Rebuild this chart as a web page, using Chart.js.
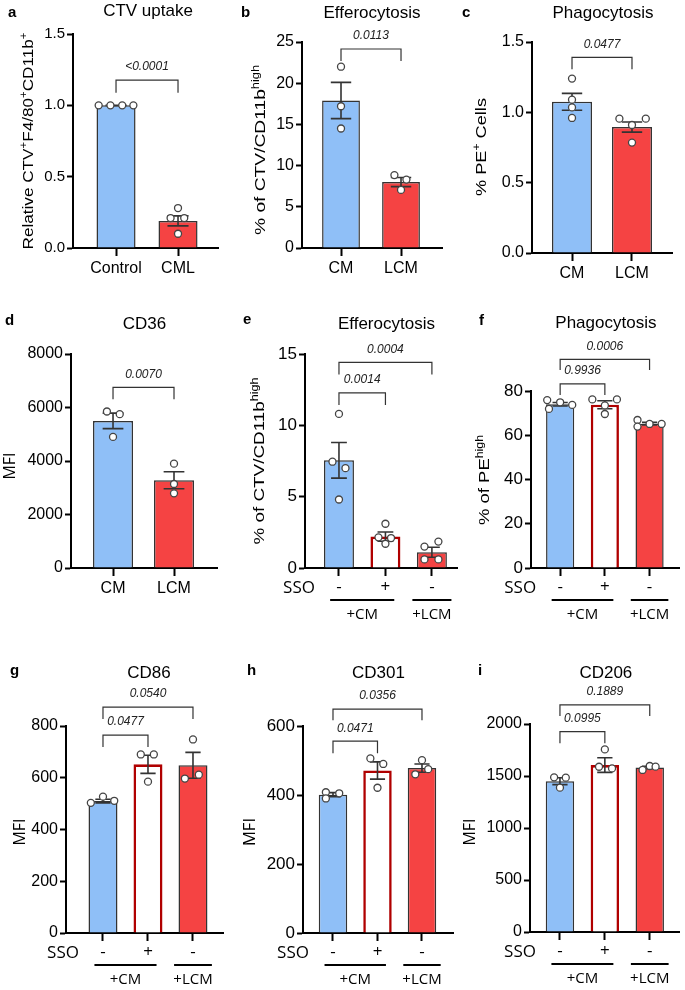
<!DOCTYPE html>
<html lang="en">
<head>
<meta charset="UTF-8">
<title>Efferocytosis and phagocytosis panels</title>
<script src="https://cdn.jsdelivr.net/npm/chart.js"></script>
<style>
  body { margin: 0; background: #fff; }
  #fig { position: relative; width: 685px; height: 990px; }
  #fig canvas { position: absolute; left: 0; top: 0; }
</style>
</head>
<body>
<div id="fig"></div>
<script>
// ---- values (mean, SEM, single replicates, p values) ----
const aLabels = ['Control', 'CML'];
const aMeans = [1.0, 0.19];
const aSems = [0.0, 0.035];
const aDots = [[1.0, 1.0, 1.0, 1.0], [0.28, 0.21, 0.21, 0.10]];
const aP = ['<0.0001'];

const bLabels = ['CM', 'LCM'];
const bMeans = [17.9, 8.0];
const bSems = [2.2, 0.55];
const bDots = [[22.0, 17.2, 14.5], [8.85, 8.3, 7.05]];
const bP = ['0.0113'];

const cLabels = ['CM', 'LCM'];
const cMeans = [1.075, 0.895];
const cSems = [0.06, 0.036];
const cDots = [[1.24, 1.09, 1.035, 0.96], [0.955, 0.955, 0.91, 0.785]];
const cP = ['0.0477'];

const dLabels = ['CM', 'LCM'];
const dMeans = [5500, 3280];
const dSems = [290, 320];
const dDots = [[5850, 5750, 4900], [3900, 3140, 2790]];
const dP = ['0.0070'];

const ssoSigns = ['-', '+', '-'];
const groupNames = ['+CM', '+LCM'];

const eMeans = [7.55, 2.2, 1.1];
const eSems = [1.25, 0.32, 0.35];
const eDots = [[10.8, 7.45, 7.0, 4.8], [3.1, 2.15, 2.1, 1.7], [1.85, 1.5, 0.6, 0.6]];
const eP = ['0.0014', '0.0004'];

const fMeans = [74.0, 73.8, 65.2];
const fSems = [0.8, 1.8, 0.6];
const fDots = [[75.9, 74.9, 73.7, 71.9], [76.2, 76.2, 73.5, 69.6], [66.9, 63.9, 65.1, 65.1]];
const fP = ['0.9936', '0.0006'];

const gMeans = [510, 652, 648];
const gSems = [7, 35, 50];
const gDots = [[503, 527, 511], [690, 690, 585], [748, 597, 612]];
const gP = ['0.0477', '0.0540'];

const hMeans = [401, 471, 478];
const hSems = [6, 25, 12];
const hDots = [[408, 405, 390], [506, 490, 421], [501, 460, 475]];
const hP = ['0.0471', '0.0356'];

const iMeans = [1450, 1605, 1582];
const iSems = [33, 70, 12];
const iDots = [[1487, 1484, 1388], [1756, 1589, 1573], [1558, 1596, 1590]];
const iP = ['0.0995', '0.1889'];

// ---- styling / layout ----
const SANS = '"Liberation Sans", Arial, sans-serif';
const SEGOE = '"Open Sans", "Liberation Sans", sans-serif';
const BLUE = '#8fbff7', RED = '#f54343', DARK = '#333333', DKRED = '#b00000';
const two = { fills: [BLUE, RED], strokes: [DARK, DARK], widths: [1.5, 1.5] };
const three = { fills: [BLUE, '#ffffff', RED], strokes: [DARK, DKRED, DARK], widths: [1.5, 2.6, 1.5] };

const panels = [
  { letter: 'a', letterPos: [8, 17], title: 'CTV uptake', titleY: 10, area: [73, 34, 218, 248], xRange: [0.306, 2.645],
    yMax: 1.5, yStep: 0.5, dec: 1, tickSize: 15, barPct: 0.63, labels: aLabels, means: aMeans, sems: aSems, dots: aDots, pvals: aP,
    jitter: [[-0.28, -0.09, 0.1, 0.28], [0, -0.12, 0.1, 0]], brackets: [[0, 1, 1.177, 1.088]],
    yTitle: [['Relative CTV', 0], ['+', 1], ['F4/80', 0], ['+', 1], ['CD11b', 0], ['+', 1]], yTitlePos: [28, 141, 217, 15], yFont: SANS, ...two },
  { letter: 'b', letterPos: [241, 17], title: 'Efferocytosis', titleY: 12, area: [302, 42, 442, 248], xRange: [0.35, 2.683],
    yMax: 25, yStep: 5, dec: 0, tickSize: 16, barPct: 0.63, labels: bLabels, means: bMeans, sems: bSems, dots: bDots, pvals: bP,
    jitter: [[0, 0, 0], [-0.11, 0.09, 0]], brackets: [[0, 1, 24.15, 22.7]],
    yTitle: [['% of CTV/CD11b', 0], ['high', 1]], yTitlePos: [260, 150, 170, 15], yFont: SANS, ...two },
  { letter: 'c', letterPos: [462, 17], title: 'Phagocytosis', titleY: 12, area: [532, 42, 672, 253], xRange: [0.333, 2.667],
    yMax: 1.5, yStep: 0.5, dec: 1, tickSize: 16, barPct: 0.667, labels: cLabels, means: cMeans, sems: cSems, dots: cDots, pvals: cP,
    jitter: [[0, 0, 0, 0], [-0.21, 0.23, 0, 0]], brackets: [[0, 1, 1.39, 1.306]],
    yTitle: [['% PE', 0], ['+', 1], [' Cells', 0]], yTitlePos: [481, 147, 98, 15], yFont: SANS, ...two },
  { letter: 'd', letterPos: [5, 325], title: 'CD36', titleY: 322.5, area: [71, 354, 217, 568], xRange: [0.311, 2.705],
    yMax: 8000, yStep: 2000, dec: 0, tickSize: 16, barPct: 0.656, labels: dLabels, means: dMeans, sems: dSems, dots: dDots, pvals: dP,
    jitter: [[-0.1, 0.11, 0], [0, 0, 0]], brackets: [[0, 1, 6755, 6306]],
    yTitle: [['MFI', 0]], yTitlePos: [9, 466, 27, 17], yFont: SEGOE, ...two },
  { letter: 'e', letterPos: [243, 324], title: 'Efferocytosis', titleY: 322.5, area: [305, 354, 457, 568], xRange: [0.269, 3.54],
    yMax: 15, yStep: 5, dec: 0, tickSize: 17, barPct: 0.645, labels: ssoSigns, groups: true, means: eMeans, sems: eSems, dots: eDots, pvals: eP,
    jitter: [[0, -0.14, 0.14, 0], [0, -0.15, 0.12, 0], [0.14, -0.16, -0.16, 0.14]], brackets: [[0, 1, 12.28, 11.42], [0, 2, 14.41, 13.57]],
    yTitle: [['% of CTV/CD11b', 0], ['high', 1]], yTitlePos: [259, 461, 167, 15], yFont: SANS, ...three },
  { letter: 'f', letterPos: [479, 325], title: 'Phagocytosis', titleY: 322, area: [531, 391, 684, 568], xRange: [0.348, 3.674],
    yMax: 80, yStep: 20, dec: 0, tickSize: 17, barPct: 0.63, labels: ssoSigns, groups: true, means: fMeans, sems: fSems, dots: fDots, pvals: fP,
    jitter: [[-0.29, 0, 0.27, -0.25], [-0.28, 0.27, 0, 0], [-0.27, -0.27, 0, 0.27]], brackets: [[0, 1, 83.2, 78.2], [0, 2, 94.3, 89.5]],
    yTitle: [['% of PE', 0], ['high', 1]], yTitlePos: [484, 480, 90, 15], yFont: SANS, ...three },
  { letter: 'g', letterPos: [10, 675], title: 'CD86', titleY: 672, area: [66, 726, 223, 933], xRange: [0.178, 3.667],
    yMax: 800, yStep: 200, dec: 0, tickSize: 16, barPct: 0.644, labels: ssoSigns, groups: true, means: gMeans, sems: gSems, dots: gDots, pvals: gP,
    jitter: [[-0.27, 0, 0.25], [-0.16, 0.13, 0], [0, -0.18, 0.13]], brackets: [[0, 1, 765, 719], [0, 2, 873, 827]],
    yTitle: [['MFI', 0]], yTitlePos: [19, 832, 27, 17], yFont: SEGOE, ...three },
  { letter: 'h', letterPos: [247, 675], title: 'CD301', titleY: 672, area: [303, 726, 453, 933], xRange: [0.326, 3.697],
    yMax: 600, yStep: 200, dec: 0, tickSize: 17, barPct: 0.64, labels: ssoSigns, groups: true, means: hMeans, sems: hSems, dots: hDots, pvals: hP,
    jitter: [[-0.16, 0.14, -0.16], [-0.16, 0.13, 0], [0, -0.15, 0.14]], brackets: [[0, 1, 556, 521], [0, 2, 649, 617]],
    yTitle: [['MFI', 0]], yTitlePos: [249, 832, 28, 17], yFont: SEGOE, ...three },
  { letter: 'i', letterPos: [478, 675], title: 'CD206', titleY: 672, area: [530, 724, 680, 932], xRange: [0.333, 3.667],
    yMax: 2000, yStep: 500, dec: 0, tickSize: 16, barPct: 0.633, labels: ssoSigns, groups: true, means: iMeans, sems: iSems, dots: iDots, pvals: iP,
    jitter: [[-0.13, 0.13, 0], [0, -0.13, 0.16], [-0.16, 0, 0.13]], brackets: [[0, 1, 1926, 1814], [0, 2, 2183, 2077]],
    yTitle: [['MFI', 0]], yTitlePos: [469, 832, 27, 17], yFont: SEGOE, ...three }
];

// text helper: y is the middle of the capitals
function put(ctx, str, x, y, size, family, align, style) {
  ctx.font = (style || '') + ' ' + size + 'px ' + family;
  ctx.textAlign = align || 'center';
  ctx.textBaseline = 'alphabetic';
  ctx.fillText(str, x, y + size * 0.36);
}

function drawYTitle(ctx, p) {
  const [cx, cy, len, main] = p.yTitlePos;
  const sup = Math.round(main * 0.66);
  const parts = p.yTitle.map(([s, isSup]) => {
    ctx.font = (isSup ? sup : main) + 'px ' + p.yFont;
    return { s, isSup, w: ctx.measureText(s).width };
  });
  const total = parts.reduce((acc, q) => acc + q.w, 0);
  ctx.save();
  ctx.translate(cx + main * 0.36, cy);
  ctx.rotate(-Math.PI / 2);
  ctx.scale(len / total, 1);
  ctx.fillStyle = '#000';
  ctx.textAlign = 'left';
  ctx.textBaseline = 'alphabetic';
  let x = -total / 2;
  parts.forEach(q => {
    ctx.font = (q.isSup ? sup : main) + 'px ' + p.yFont;
    ctx.fillText(q.s, x, q.isSup ? -main * 0.42 : 0);
    x += q.w;
  });
  ctx.restore();
}

function makePanel(p, k) {
  const canvas = document.createElement('canvas');
  canvas.width = 685;
  canvas.height = 990;
  document.getElementById('fig').appendChild(canvas);
  const [l, t, r, b] = p.area;
  const xs = p.labels.map((_, i) => i + 1);

  const decor = {
    id: 'decor' + k,
    afterDatasetDraw(chart, args) {
      if (args.index !== 1) return;
      // mean +/- SEM error bars
      const sx = chart.scales.x, sy = chart.scales.y, ctx = chart.ctx;
      ctx.save();
      ctx.strokeStyle = DARK;
      ctx.lineWidth = 1.6;
      p.means.forEach((m, i) => {
        const x = sx.getPixelForValue(i + 1);
        const cap = sx.getPixelForValue(i + 1.17) - x;
        const hi = sy.getPixelForValue(m + p.sems[i]), lo = sy.getPixelForValue(m - p.sems[i]);
        ctx.beginPath();
        ctx.moveTo(x, hi); ctx.lineTo(x, lo);
        ctx.moveTo(x - cap, hi); ctx.lineTo(x + cap, hi);
        ctx.moveTo(x - cap, lo); ctx.lineTo(x + cap, lo);
        ctx.stroke();
      });
      ctx.restore();
    },
    afterDraw(chart) {
      const sx = chart.scales.x, sy = chart.scales.y, ctx = chart.ctx;
      ctx.save();
      ctx.fillStyle = '#000';
      // panel letter + title
      ctx.font = 'bold 15px ' + SANS;
      ctx.textAlign = 'left';
      ctx.textBaseline = 'alphabetic';
      ctx.fillText(p.letter, p.letterPos[0], p.letterPos[1]);
      const mid = (sx.getPixelForValue(1) + sx.getPixelForValue(xs.length)) / 2 + 1;
      put(ctx, p.title, mid, p.titleY, 17, SANS);
      drawYTitle(ctx, p);
      // significance brackets
      ctx.strokeStyle = DARK;
      ctx.lineWidth = 1.2;
      p.brackets.forEach(([i1, i2, yl, yb], j) => {
        const x1 = sx.getPixelForValue(i1 + 1), x2 = sx.getPixelForValue(i2 + 1);
        const py = sy.getPixelForValue(yl), pb = sy.getPixelForValue(yb);
        ctx.beginPath();
        ctx.moveTo(x1, pb); ctx.lineTo(x1, py); ctx.lineTo(x2, py); ctx.lineTo(x2, pb);
        ctx.stroke();
        ctx.fillStyle = '#222';
        put(ctx, p.pvals[j], (x1 + x2) / 2, py - 14, 12, SANS, 'center', 'italic');
      });
      // SSO row and +CM / +LCM group lines
      if (p.groups) {
        ctx.fillStyle = '#000';
        put(ctx, 'SSO', sx.getPixelForValue(1) - 24, b + 19, 17, SEGOE, 'right');
        ctx.strokeStyle = '#000';
        ctx.lineWidth = 2;
        [[1.5, 0.69], [3, 0.42]].forEach(([c, h], j) => {
          const x1 = sx.getPixelForValue(c - h), x2 = sx.getPixelForValue(c + h);
          ctx.beginPath();
          ctx.moveTo(x1, b + 32); ctx.lineTo(x2, b + 32);
          ctx.stroke();
          put(ctx, groupNames[j], (x1 + x2) / 2, b + 46, 15, SEGOE);
        });
      }
      ctx.restore();
    }
  };

  new Chart(canvas, {
    type: 'bar',
    data: {
      datasets: [
        {
          type: 'scatter',
          data: p.dots.flatMap((g, i) => g.map((v, j) => ({ x: i + 1 + p.jitter[i][j], y: v }))),
          pointRadius: 3.5,
          pointBackgroundColor: '#ffffff',
          pointBorderColor: '#444444',
          pointBorderWidth: 1.3,
          order: 0
        },
        {
          type: 'bar',
          data: xs.map((x, i) => ({ x, y: p.means[i] })),
          backgroundColor: p.fills,
          borderColor: p.strokes,
          borderWidth: p.widths,
          borderSkipped: 'start',
          barPercentage: p.barPct,
          categoryPercentage: 1,
          order: 1
        }
      ]
    },
    options: {
      responsive: false,
      animation: false,
      devicePixelRatio: 1,
      events: [],
      layout: { padding: { left: l - 60, top: t, right: 685 - r, bottom: 990 - b - 40 } },
      plugins: { legend: { display: false }, tooltip: { enabled: false } },
      scales: {
        x: {
          type: 'linear',
          offset: false,
          min: p.xRange[0],
          max: p.xRange[1],
          afterBuildTicks: s => { s.ticks = xs.map(v => ({ value: v })); },
          afterFit: s => { s.height = 40; },
          ticks: {
            autoSkip: false,
            maxRotation: 0,
            color: '#000',
            padding: p.groups ? 1 : 3,
            font: p.groups ? { family: SEGOE, size: 17 } : { family: SANS, size: 16 },
            callback: v => p.labels[v - 1]
          },
          grid: { display: true, offset: false, drawOnChartArea: false, drawTicks: true, tickLength: 8, tickWidth: 2, tickColor: '#000' },
          border: { display: true, color: '#000', width: 2 }
        },
        y: {
          type: 'linear',
          min: 0,
          max: p.yMax,
          afterFit: s => { s.width = 60; },
          ticks: {
            stepSize: p.yStep,
            color: '#000',
            padding: 2,
            font: { family: SANS, size: p.tickSize },
            callback: v => v.toFixed(p.dec)
          },
          grid: { display: true, drawOnChartArea: false, drawTicks: true, tickLength: 6, tickWidth: 2, tickColor: '#000' },
          border: { display: true, color: '#000', width: 2 }
        }
      }
    },
    plugins: [decor]
  });
}

panels.forEach(makePanel);
</script>
</body>
</html>
